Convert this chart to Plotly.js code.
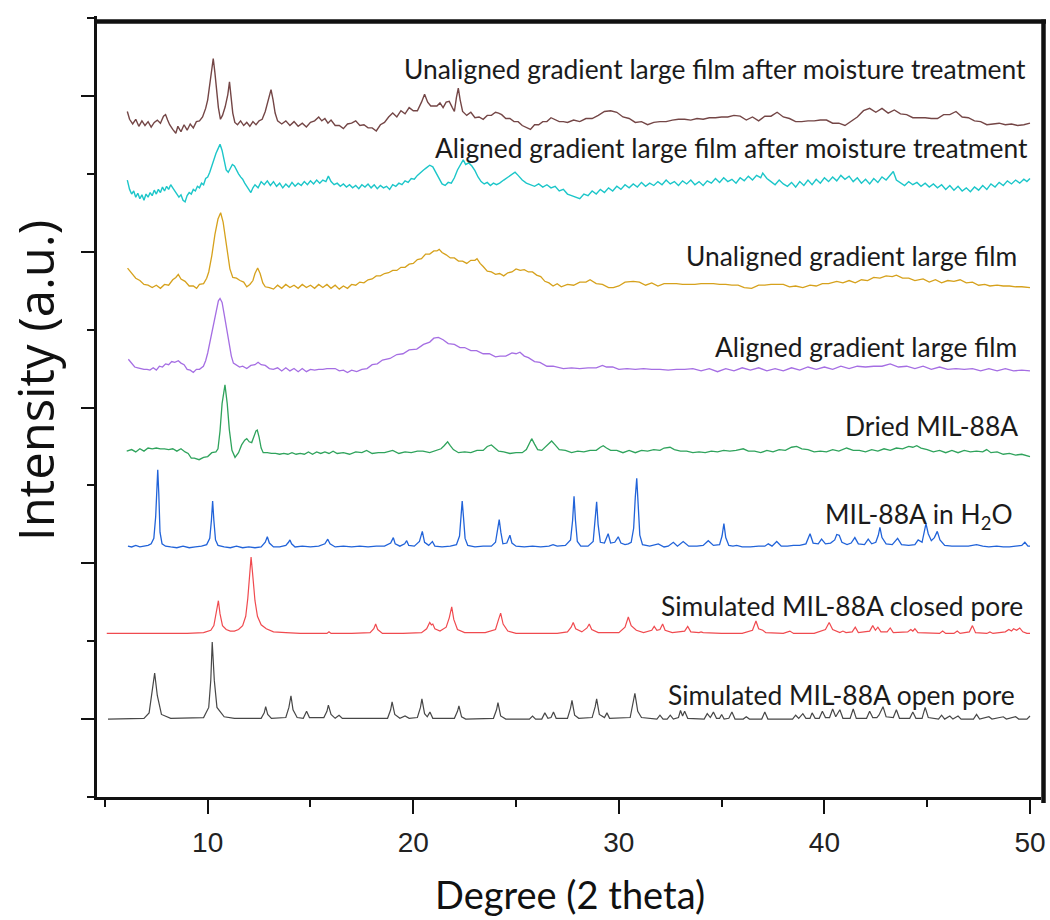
<!DOCTYPE html>
<html>
<head>
<meta charset="utf-8">
<script src="https://cdn.plot.ly/plotly-3.0.1.min.js"></script>
<style>html,body{margin:0;padding:0;background:#fff;}#chart{width:1050px;height:920px;}</style>
</head>
<body>
<div id="chart"></div>
<script>
// ---------- DATA (2θ in degrees, stacked intensity in offset units) ----------
const xTickVals = [10, 20, 30, 40, 50];
const xMinorVals = [5, 15, 25, 35, 45];
const yMajorVals = [1, 3, 5, 7, 9];
const yMinorVals = [0, 2, 4, 6, 8, 10];

const xTitle = "Degree (2 theta)";
const yTitle = "Intensity (a.u.)";

const seriesNames = [
  "Unaligned gradient large film after moisture treatment",
  "Aligned gradient large film after moisture treatment",
  "Unaligned gradient large film",
  "Aligned gradient large film",
  "Dried MIL-88A",
  "MIL-88A in H<sub>2</sub>O",
  "Simulated MIL-88A closed pore",
  "Simulated MIL-88A open pore"
];

const unalignedMoisture = [
[6.09,8.80],[6.2,8.70],[6.35,8.64],[6.5,8.70],[6.65,8.61],[6.8,8.68],[6.95,8.62],[7.1,8.67],[7.25,8.60],[7.4,8.66],[7.55,8.69],[7.7,8.65],[7.85,8.74],[7.95,8.76],[8.05,8.69],[8.15,8.63],[8.3,8.57],[8.45,8.52],[8.55,8.61],[8.7,8.54],[8.85,8.63],[9.0,8.56],[9.15,8.64],[9.3,8.59],[9.45,8.67],[9.6,8.68],[9.75,8.73],[9.9,8.84],[10.0,8.95],[10.1,9.15],[10.2,9.38],[10.27,9.48],[10.35,9.30],[10.43,9.05],[10.52,8.85],[10.62,8.70],[10.72,8.75],[10.85,8.86],[10.98,9.02],[11.06,9.18],[11.14,9.00],[11.22,8.78],[11.32,8.66],[11.45,8.63],[11.6,8.68],[11.75,8.62],[11.9,8.66],[12.05,8.61],[12.2,8.67],[12.35,8.63],[12.5,8.68],[12.65,8.70],[12.8,8.80],[12.95,8.94],[13.08,9.08],[13.18,8.95],[13.28,8.78],[13.4,8.68],[13.6,8.64],[13.8,8.68],[14.0,8.62],[14.2,8.67],[14.4,8.61],[14.6,8.65],[14.8,8.60],[15.0,8.66],[15.2,8.68],[15.4,8.73],[15.55,8.68],[15.7,8.71],[15.85,8.65],[16.0,8.69],[16.2,8.62],[16.4,8.62],[16.6,8.58],[16.8,8.64],[17.0,8.65],[17.2,8.68],[17.4,8.62],[17.6,8.63],[17.8,8.59],[18.0,8.59],[18.2,8.55],[18.4,8.63],[18.6,8.66],[18.8,8.73],[19.0,8.78],[19.2,8.73],[19.4,8.81],[19.6,8.77],[19.8,8.85],[20.0,8.81],[20.2,8.81],[20.4,8.92],[20.55,9.02],[20.7,8.92],[20.85,8.87],[21.0,8.87],[21.15,8.87],[21.3,8.91],[21.45,8.85],[21.6,8.92],[21.75,8.93],[21.9,8.85],[22.0,8.80],[22.1,8.98],[22.19,9.10],[22.28,8.95],[22.4,8.80],[22.6,8.75],[22.8,8.79],[23.0,8.72],[23.2,8.73],[23.4,8.70],[23.6,8.75],[23.8,8.75],[24.0,8.79],[24.15,8.78],[24.3,8.76],[24.5,8.71],[24.7,8.71],[24.9,8.67],[25.1,8.67],[25.3,8.62],[25.5,8.60],[25.7,8.57],[25.9,8.63],[26.1,8.63],[26.3,8.67],[26.5,8.67],[26.7,8.72],[26.9,8.69],[27.1,8.67],[27.3,8.67],[27.5,8.66],[27.8,8.69],[28.1,8.67],[28.4,8.71],[28.7,8.71],[29.0,8.75],[29.3,8.80],[29.6,8.81],[29.9,8.79],[30.2,8.73],[30.5,8.71],[30.8,8.66],[31.1,8.67],[31.4,8.63],[31.7,8.66],[32.0,8.67],[32.3,8.67],[32.6,8.69],[32.9,8.70],[33.2,8.70],[33.5,8.69],[33.8,8.71],[34.1,8.70],[34.4,8.72],[34.7,8.72],[35.0,8.73],[35.3,8.73],[35.6,8.75],[35.9,8.74],[36.2,8.69],[36.5,8.73],[36.8,8.68],[37.1,8.74],[37.4,8.74],[37.7,8.79],[38.0,8.73],[38.3,8.71],[38.6,8.67],[38.9,8.67],[39.2,8.68],[39.5,8.68],[39.8,8.69],[40.1,8.69],[40.4,8.65],[40.7,8.65],[41.0,8.62],[41.3,8.68],[41.6,8.73],[41.9,8.81],[42.2,8.84],[42.5,8.79],[42.8,8.84],[43.1,8.78],[43.4,8.82],[43.7,8.77],[44.0,8.76],[44.3,8.72],[44.6,8.72],[44.9,8.72],[45.2,8.71],[45.5,8.71],[45.8,8.76],[46.1,8.76],[46.4,8.80],[46.7,8.73],[47.0,8.72],[47.3,8.68],[47.6,8.67],[47.9,8.63],[48.2,8.64],[48.5,8.65],[48.8,8.63],[49.1,8.64],[49.4,8.62],[49.7,8.63],[50.0,8.65]
];

const alignedMoisture = [
[6.09,7.92],[6.2,7.80],[6.3,7.74],[6.4,7.78],[6.5,7.70],[6.6,7.75],[6.7,7.68],[6.8,7.73],[6.9,7.66],[7.0,7.74],[7.1,7.70],[7.2,7.76],[7.3,7.72],[7.4,7.79],[7.5,7.74],[7.6,7.80],[7.7,7.76],[7.8,7.83],[7.9,7.78],[8.0,7.84],[8.1,7.80],[8.2,7.86],[8.3,7.82],[8.4,7.78],[8.5,7.74],[8.6,7.70],[8.7,7.73],[8.8,7.66],[8.9,7.64],[9.0,7.72],[9.1,7.76],[9.2,7.74],[9.3,7.80],[9.4,7.78],[9.5,7.84],[9.6,7.82],[9.7,7.88],[9.8,7.86],[9.9,7.94],[10.0,7.96],[10.1,8.02],[10.2,8.10],[10.3,8.20],[10.4,8.26],[10.5,8.32],[10.6,8.38],[10.7,8.30],[10.8,8.16],[10.9,8.05],[11.0,8.02],[11.1,8.08],[11.2,8.12],[11.3,8.10],[11.4,8.04],[11.5,8.00],[11.6,7.96],[11.7,7.93],[11.8,7.88],[11.9,7.84],[12.0,7.80],[12.1,7.76],[12.2,7.82],[12.3,7.86],[12.45,7.82],[12.6,7.90],[12.75,7.86],[12.9,7.91],[13.05,7.85],[13.2,7.90],[13.35,7.84],[13.5,7.88],[13.65,7.82],[13.8,7.87],[13.95,7.83],[14.1,7.89],[14.25,7.84],[14.4,7.88],[14.55,7.85],[14.7,7.90],[14.85,7.86],[15.0,7.91],[15.15,7.87],[15.3,7.92],[15.45,7.88],[15.6,7.92],[15.75,7.90],[15.87,7.97],[16.0,7.90],[16.15,7.86],[16.3,7.88],[16.45,7.84],[16.6,7.87],[16.75,7.83],[16.9,7.86],[17.05,7.82],[17.2,7.85],[17.35,7.81],[17.5,7.86],[17.65,7.83],[17.8,7.87],[17.95,7.82],[18.1,7.86],[18.25,7.81],[18.4,7.85],[18.55,7.82],[18.7,7.84],[18.85,7.80],[19.0,7.86],[19.15,7.84],[19.3,7.88],[19.45,7.86],[19.6,7.91],[19.75,7.89],[19.9,7.94],[20.05,7.93],[20.2,7.98],[20.35,8.02],[20.5,8.05],[20.65,8.08],[20.8,8.11],[20.95,8.09],[21.1,8.02],[21.25,7.94],[21.4,7.87],[21.55,7.85],[21.7,7.89],[21.85,7.88],[22.0,7.95],[22.15,8.05],[22.3,8.13],[22.43,8.18],[22.55,8.12],[22.7,8.14],[22.85,8.10],[23.0,8.04],[23.15,7.96],[23.3,7.90],[23.45,7.87],[23.6,7.89],[23.75,7.85],[23.9,7.88],[24.05,7.86],[24.2,7.88],[24.4,7.92],[24.6,7.96],[24.8,7.99],[24.95,8.02],[25.1,7.98],[25.3,7.92],[25.5,7.88],[25.7,7.86],[25.9,7.84],[26.1,7.87],[26.3,7.83],[26.5,7.86],[26.7,7.82],[26.9,7.84],[27.1,7.78],[27.3,7.80],[27.5,7.74],[27.7,7.72],[27.9,7.70],[28.1,7.68],[28.3,7.74],[28.5,7.72],[28.7,7.78],[28.9,7.74],[29.1,7.80],[29.3,7.76],[29.5,7.82],[29.7,7.78],[29.9,7.84],[30.1,7.80],[30.3,7.86],[30.5,7.82],[30.7,7.87],[30.9,7.83],[31.1,7.89],[31.3,7.84],[31.5,7.88],[31.7,7.85],[31.9,7.90],[32.1,7.86],[32.3,7.92],[32.5,7.87],[32.7,7.90],[32.9,7.85],[33.1,7.91],[33.3,7.87],[33.5,7.92],[33.7,7.86],[33.9,7.90],[34.1,7.85],[34.3,7.91],[34.5,7.88],[34.7,7.94],[34.9,7.89],[35.1,7.95],[35.3,7.90],[35.5,7.93],[35.7,7.88],[35.9,7.95],[36.1,7.91],[36.3,7.97],[36.5,7.92],[36.7,7.98],[36.9,7.95],[37.0,8.01],[37.2,7.94],[37.4,7.90],[37.6,7.86],[37.8,7.92],[38.0,7.87],[38.2,7.84],[38.4,7.89],[38.6,7.83],[38.8,7.90],[39.0,7.85],[39.2,7.92],[39.4,7.86],[39.6,7.93],[39.8,7.88],[40.0,7.95],[40.2,7.90],[40.4,7.96],[40.6,7.91],[40.8,7.98],[41.0,7.93],[41.2,7.97],[41.4,7.90],[41.6,7.95],[41.8,7.88],[42.0,7.93],[42.2,7.87],[42.4,7.94],[42.6,7.89],[42.8,7.96],[43.0,7.92],[43.2,7.98],[43.35,8.03],[43.5,7.92],[43.7,7.88],[43.9,7.85],[44.1,7.90],[44.3,7.86],[44.5,7.89],[44.7,7.84],[44.9,7.88],[45.1,7.83],[45.3,7.87],[45.5,7.82],[45.7,7.86],[45.9,7.80],[46.1,7.85],[46.3,7.79],[46.5,7.84],[46.7,7.78],[46.9,7.82],[47.1,7.77],[47.3,7.83],[47.5,7.79],[47.7,7.85],[47.9,7.80],[48.1,7.87],[48.3,7.83],[48.5,7.89],[48.7,7.85],[48.9,7.91],[49.1,7.87],[49.3,7.92],[49.5,7.88],[49.7,7.93],[49.85,7.90],[50.0,7.94]
];

const unalignedFilm = [
[6.1,6.79],[6.3,6.72],[6.5,6.66],[6.7,6.63],[6.9,6.58],[7.1,6.57],[7.3,6.54],[7.5,6.57],[7.7,6.53],[7.9,6.58],[8.1,6.57],[8.3,6.64],[8.45,6.67],[8.57,6.71],[8.7,6.65],[8.9,6.62],[9.1,6.56],[9.3,6.56],[9.46,6.53],[9.6,6.58],[9.8,6.59],[9.95,6.66],[10.05,6.74],[10.2,6.95],[10.35,7.22],[10.5,7.42],[10.63,7.50],[10.75,7.38],[10.85,7.18],[10.95,6.98],[11.08,6.78],[11.22,6.67],[11.4,6.66],[11.57,6.63],[11.75,6.61],[11.9,6.55],[12.05,6.58],[12.2,6.63],[12.3,6.72],[12.43,6.79],[12.55,6.72],[12.68,6.60],[12.8,6.55],[13.0,6.54],[13.2,6.52],[13.4,6.57],[13.6,6.53],[13.8,6.58],[14.0,6.54],[14.2,6.57],[14.4,6.53],[14.6,6.58],[14.8,6.54],[15.0,6.57],[15.2,6.53],[15.4,6.58],[15.6,6.54],[15.8,6.58],[16.0,6.53],[16.2,6.57],[16.4,6.52],[16.6,6.56],[16.8,6.53],[17.0,6.58],[17.2,6.57],[17.4,6.61],[17.6,6.60],[17.8,6.64],[18.0,6.65],[18.2,6.69],[18.4,6.69],[18.6,6.72],[18.8,6.73],[19.0,6.76],[19.2,6.76],[19.4,6.80],[19.6,6.80],[19.8,6.84],[20.0,6.85],[20.2,6.90],[20.4,6.91],[20.6,6.97],[20.8,6.97],[21.0,7.01],[21.15,7.01],[21.26,7.03],[21.4,6.99],[21.6,6.96],[21.8,6.92],[22.0,6.92],[22.2,6.88],[22.4,6.88],[22.6,6.85],[22.8,6.89],[23.0,6.89],[23.1,6.91],[23.25,6.85],[23.4,6.81],[23.6,6.75],[23.8,6.74],[24.0,6.71],[24.2,6.72],[24.4,6.69],[24.6,6.73],[24.8,6.74],[25.0,6.78],[25.2,6.76],[25.4,6.77],[25.6,6.74],[25.8,6.74],[26.0,6.70],[26.2,6.68],[26.4,6.62],[26.6,6.60],[26.8,6.56],[27.0,6.59],[27.2,6.55],[27.5,6.58],[27.8,6.57],[28.1,6.61],[28.4,6.61],[28.6,6.64],[28.9,6.59],[29.2,6.58],[29.5,6.54],[29.73,6.54],[30.0,6.56],[30.3,6.61],[30.7,6.62],[31.0,6.61],[31.3,6.57],[31.6,6.60],[31.9,6.56],[32.2,6.59],[32.5,6.59],[32.8,6.59],[33.1,6.58],[33.4,6.58],[33.7,6.58],[34.0,6.59],[34.3,6.59],[34.6,6.59],[34.9,6.58],[35.2,6.58],[35.5,6.57],[35.8,6.57],[36.1,6.54],[36.46,6.53],[36.8,6.57],[37.1,6.57],[37.4,6.58],[37.7,6.58],[38.0,6.58],[38.3,6.55],[38.6,6.56],[38.95,6.54],[39.3,6.57],[39.6,6.56],[39.9,6.59],[40.2,6.59],[40.6,6.62],[40.9,6.60],[41.2,6.63],[41.5,6.60],[41.8,6.64],[42.1,6.63],[42.4,6.67],[42.7,6.66],[43.0,6.69],[43.3,6.68],[43.5,6.70],[43.8,6.66],[44.1,6.66],[44.4,6.63],[44.8,6.65],[45.1,6.61],[45.4,6.64],[45.7,6.60],[46.0,6.63],[46.3,6.62],[46.6,6.64],[46.9,6.60],[47.2,6.61],[47.5,6.57],[47.8,6.58],[48.05,6.56],[48.4,6.57],[48.7,6.56],[49.0,6.56],[49.3,6.55],[49.6,6.55],[50.0,6.54]
];

const alignedFilm = [
[6.14,5.62],[6.3,5.57],[6.45,5.52],[6.6,5.51],[6.75,5.50],[6.9,5.49],[7.05,5.49],[7.19,5.48],[7.35,5.51],[7.5,5.48],[7.65,5.53],[7.8,5.52],[7.95,5.56],[8.1,5.55],[8.25,5.59],[8.4,5.58],[8.57,5.60],[8.7,5.57],[8.85,5.55],[9.0,5.49],[9.15,5.48],[9.3,5.45],[9.45,5.49],[9.6,5.49],[9.79,5.53],[9.9,5.60],[10.0,5.70],[10.1,5.83],[10.2,5.97],[10.3,6.12],[10.42,6.28],[10.52,6.37],[10.6,6.40],[10.7,6.35],[10.8,6.20],[10.92,6.00],[11.05,5.80],[11.15,5.66],[11.25,5.57],[11.4,5.55],[11.55,5.52],[11.7,5.53],[11.9,5.50],[12.1,5.54],[12.3,5.55],[12.45,5.58],[12.6,5.55],[12.8,5.54],[13.0,5.50],[13.19,5.49],[13.4,5.51],[13.6,5.47],[13.8,5.51],[14.0,5.47],[14.2,5.50],[14.4,5.46],[14.6,5.50],[14.8,5.46],[15.0,5.49],[15.2,5.48],[15.4,5.49],[15.6,5.49],[15.8,5.50],[16.0,5.50],[16.2,5.50],[16.4,5.47],[16.6,5.48],[16.8,5.45],[17.0,5.48],[17.25,5.46],[17.5,5.49],[17.75,5.50],[18.0,5.55],[18.25,5.56],[18.5,5.61],[18.87,5.63],[19.2,5.68],[19.5,5.69],[19.8,5.74],[20.17,5.75],[20.5,5.81],[20.8,5.84],[21.0,5.89],[21.22,5.90],[21.45,5.87],[21.7,5.82],[22.0,5.81],[22.27,5.77],[22.5,5.77],[22.8,5.73],[23.08,5.73],[23.4,5.69],[23.7,5.69],[24.0,5.65],[24.22,5.66],[24.5,5.66],[24.8,5.70],[25.0,5.69],[25.19,5.71],[25.4,5.66],[25.6,5.64],[25.9,5.59],[26.16,5.58],[26.5,5.53],[26.8,5.53],[27.3,5.50],[27.7,5.51],[28.1,5.50],[28.5,5.51],[28.9,5.51],[29.2,5.54],[29.4,5.52],[29.7,5.52],[30.0,5.49],[30.4,5.50],[30.8,5.49],[31.2,5.50],[31.6,5.49],[32.0,5.49],[32.4,5.48],[32.8,5.49],[33.2,5.49],[33.6,5.50],[34.0,5.47],[34.4,5.50],[34.8,5.46],[35.2,5.50],[35.6,5.47],[36.0,5.51],[36.4,5.48],[36.8,5.51],[37.2,5.47],[37.6,5.50],[38.0,5.47],[38.4,5.51],[38.8,5.48],[39.2,5.52],[39.6,5.49],[40.0,5.52],[40.4,5.49],[40.8,5.53],[41.2,5.50],[41.6,5.53],[42.0,5.52],[42.4,5.53],[42.8,5.53],[43.2,5.56],[43.6,5.52],[44.0,5.53],[44.4,5.50],[44.8,5.53],[45.2,5.49],[45.6,5.52],[46.0,5.49],[46.4,5.50],[46.8,5.49],[47.2,5.50],[47.6,5.47],[48.0,5.50],[48.4,5.47],[48.8,5.50],[49.2,5.47],[49.6,5.48],[50.0,5.47]
];

const driedMIL = [
[6.06,4.44],[6.3,4.46],[6.5,4.43],[6.7,4.47],[6.9,4.44],[7.1,4.48],[7.3,4.47],[7.5,4.48],[7.7,4.47],[7.9,4.47],[8.1,4.46],[8.3,4.47],[8.5,4.44],[8.7,4.47],[8.9,4.43],[9.05,4.41],[9.2,4.35],[9.35,4.35],[9.58,4.33],[9.8,4.36],[10.0,4.37],[10.2,4.42],[10.4,4.43],[10.5,4.47],[10.6,4.70],[10.7,5.05],[10.84,5.29],[10.95,5.05],[11.05,4.72],[11.18,4.45],[11.33,4.36],[11.5,4.42],[11.65,4.52],[11.8,4.58],[11.9,4.60],[12.02,4.56],[12.14,4.55],[12.25,4.62],[12.35,4.70],[12.41,4.71],[12.5,4.62],[12.6,4.48],[12.7,4.42],[12.9,4.42],[13.1,4.41],[13.3,4.41],[13.5,4.40],[13.7,4.41],[13.9,4.40],[14.1,4.42],[14.3,4.40],[14.5,4.41],[14.7,4.40],[14.9,4.43],[15.1,4.40],[15.3,4.43],[15.5,4.41],[15.7,4.43],[15.9,4.41],[16.1,4.44],[16.3,4.41],[16.6,4.42],[16.9,4.40],[17.2,4.43],[17.5,4.42],[17.73,4.45],[18.0,4.41],[18.3,4.42],[18.6,4.42],[19.0,4.45],[19.3,4.41],[19.6,4.43],[19.9,4.42],[20.2,4.44],[20.47,4.44],[20.8,4.42],[21.1,4.45],[21.35,4.47],[21.5,4.51],[21.67,4.56],[21.8,4.51],[21.95,4.46],[22.2,4.42],[22.5,4.43],[22.8,4.42],[23.1,4.45],[23.4,4.45],[23.6,4.50],[23.8,4.52],[23.95,4.49],[24.15,4.44],[24.4,4.43],[24.7,4.41],[25.0,4.42],[25.3,4.42],[25.5,4.46],[25.65,4.54],[25.76,4.60],[25.9,4.53],[26.05,4.46],[26.25,4.45],[26.5,4.51],[26.73,4.57],[26.9,4.52],[27.1,4.46],[27.4,4.45],[27.7,4.42],[28.0,4.44],[28.3,4.43],[28.6,4.45],[28.9,4.45],[29.1,4.49],[29.24,4.51],[29.4,4.48],[29.6,4.45],[29.9,4.45],[30.2,4.42],[30.5,4.45],[30.8,4.42],[31.1,4.45],[31.4,4.44],[31.7,4.46],[32.0,4.45],[32.2,4.48],[32.49,4.49],[32.7,4.46],[33.0,4.44],[33.3,4.44],[33.6,4.42],[33.9,4.43],[34.2,4.42],[34.5,4.44],[34.8,4.43],[35.1,4.45],[35.4,4.44],[35.7,4.45],[36.05,4.47],[36.3,4.44],[36.6,4.44],[36.9,4.42],[37.2,4.45],[37.5,4.43],[37.8,4.46],[38.1,4.45],[38.4,4.49],[38.65,4.50],[38.9,4.47],[39.2,4.46],[39.5,4.43],[39.8,4.44],[40.1,4.43],[40.4,4.46],[40.7,4.44],[41.08,4.48],[41.4,4.45],[41.7,4.45],[42.0,4.43],[42.3,4.46],[42.6,4.44],[42.9,4.47],[43.2,4.45],[43.5,4.48],[43.8,4.47],[44.1,4.50],[44.3,4.49],[44.49,4.51],[44.7,4.48],[45.0,4.46],[45.3,4.43],[45.6,4.45],[45.9,4.42],[46.2,4.45],[46.5,4.42],[46.8,4.45],[47.1,4.43],[47.4,4.44],[47.7,4.43],[47.89,4.46],[48.1,4.42],[48.4,4.43],[48.7,4.40],[49.0,4.41],[49.3,4.39],[49.6,4.40],[50.0,4.37]
];

const milWater = [
[6.12,3.22],[6.3,3.21],[6.5,3.23],[6.7,3.21],[6.9,3.22],[7.1,3.23],[7.25,3.25],[7.38,3.32],[7.47,3.60],[7.52,3.95],[7.57,4.20],[7.62,3.90],[7.68,3.40],[7.78,3.25],[7.95,3.22],[8.2,3.21],[8.5,3.20],[8.8,3.22],[9.1,3.20],[9.4,3.21],[9.7,3.22],[9.95,3.24],[10.1,3.32],[10.18,3.55],[10.24,3.80],[10.3,3.55],[10.38,3.30],[10.5,3.23],[10.8,3.21],[11.1,3.20],[11.4,3.22],[11.7,3.20],[12.0,3.21],[12.3,3.20],[12.6,3.21],[12.8,3.27],[12.9,3.34],[13.0,3.26],[13.2,3.21],[13.5,3.21],[13.8,3.23],[13.93,3.27],[14.0,3.30],[14.08,3.25],[14.25,3.21],[14.6,3.22],[15.0,3.21],[15.4,3.22],[15.7,3.25],[15.84,3.31],[15.95,3.25],[16.2,3.21],[16.6,3.22],[17.0,3.21],[17.4,3.22],[17.8,3.21],[18.2,3.22],[18.6,3.22],[18.9,3.26],[19.03,3.33],[19.12,3.25],[19.35,3.22],[19.58,3.25],[19.68,3.29],[19.78,3.23],[20.05,3.22],[20.3,3.28],[20.44,3.41],[20.55,3.27],[20.75,3.23],[20.85,3.26],[20.93,3.28],[21.05,3.22],[21.4,3.21],[21.8,3.22],[22.1,3.24],[22.25,3.35],[22.33,3.60],[22.38,3.80],[22.44,3.60],[22.52,3.32],[22.65,3.23],[23.0,3.21],[23.4,3.22],[23.8,3.22],[24.0,3.27],[24.1,3.42],[24.18,3.56],[24.26,3.40],[24.36,3.25],[24.55,3.26],[24.7,3.36],[24.8,3.26],[25.0,3.22],[25.4,3.21],[25.8,3.22],[26.2,3.21],[26.6,3.22],[26.8,3.24],[27.0,3.22],[27.4,3.23],[27.65,3.30],[27.75,3.55],[27.82,3.86],[27.89,3.55],[27.98,3.28],[28.15,3.22],[28.5,3.22],[28.75,3.28],[28.85,3.55],[28.92,3.79],[28.99,3.50],[29.1,3.27],[29.3,3.26],[29.48,3.38],[29.6,3.26],[29.8,3.27],[29.97,3.34],[30.1,3.26],[30.3,3.24],[30.46,3.25],[30.6,3.27],[30.72,3.45],[30.8,3.85],[30.87,4.09],[30.94,3.75],[31.02,3.36],[31.15,3.24],[31.5,3.22],[31.92,3.25],[32.2,3.21],[32.4,3.22],[32.65,3.27],[32.85,3.22],[33.13,3.28],[33.4,3.22],[33.8,3.22],[34.1,3.23],[34.35,3.29],[34.6,3.23],[34.9,3.24],[35.02,3.35],[35.11,3.51],[35.2,3.33],[35.35,3.23],[35.55,3.22],[35.73,3.23],[36.0,3.21],[36.4,3.21],[36.8,3.22],[37.1,3.22],[37.27,3.25],[37.45,3.22],[37.68,3.28],[37.9,3.22],[38.2,3.22],[38.49,3.23],[38.8,3.23],[39.1,3.25],[39.3,3.38],[39.45,3.26],[39.7,3.25],[39.86,3.31],[40.05,3.25],[40.3,3.26],[40.5,3.30],[40.6,3.37],[40.72,3.36],[40.85,3.27],[41.1,3.24],[41.3,3.26],[41.48,3.33],[41.65,3.25],[41.95,3.24],[42.13,3.31],[42.3,3.25],[42.5,3.27],[42.62,3.36],[42.7,3.46],[42.8,3.33],[43.0,3.25],[43.3,3.24],[43.56,3.32],[43.75,3.24],[44.1,3.23],[44.4,3.24],[44.56,3.30],[44.75,3.27],[44.87,3.42],[44.94,3.51],[45.05,3.38],[45.2,3.29],[45.35,3.33],[45.49,3.41],[45.62,3.30],[45.85,3.23],[46.2,3.22],[46.6,3.22],[47.0,3.22],[47.4,3.24],[47.7,3.22],[48.0,3.21],[48.38,3.22],[48.7,3.21],[49.0,3.21],[49.3,3.22],[49.6,3.23],[49.75,3.27],[49.9,3.22],[50.0,3.22]
];

const simClosed = [
[5.09,2.10],[6.0,2.10],[7.0,2.10],[8.0,2.10],[9.0,2.10],[9.8,2.11],[10.15,2.14],[10.3,2.20],[10.42,2.35],[10.52,2.52],[10.6,2.35],[10.72,2.20],[10.9,2.15],[11.1,2.13],[11.3,2.13],[11.5,2.15],[11.7,2.20],[11.85,2.32],[11.95,2.55],[12.05,2.90],[12.11,3.08],[12.18,2.88],[12.3,2.52],[12.42,2.32],[12.6,2.21],[12.85,2.16],[13.2,2.12],[13.8,2.11],[14.5,2.10],[15.5,2.10],[15.8,2.10],[15.9,2.12],[16.0,2.10],[17.0,2.10],[17.9,2.11],[18.08,2.16],[18.17,2.22],[18.27,2.15],[18.5,2.10],[19.5,2.10],[20.4,2.11],[20.65,2.16],[20.8,2.24],[20.88,2.21],[20.95,2.22],[21.05,2.16],[21.3,2.13],[21.6,2.18],[21.75,2.30],[21.87,2.44],[21.97,2.28],[22.15,2.15],[22.5,2.11],[23.5,2.11],[24.0,2.15],[24.15,2.28],[24.25,2.36],[24.37,2.22],[24.6,2.13],[25.0,2.10],[26.0,2.10],[27.0,2.10],[27.5,2.12],[27.68,2.18],[27.78,2.24],[27.9,2.16],[28.2,2.12],[28.45,2.17],[28.56,2.22],[28.68,2.15],[29.0,2.11],[30.0,2.11],[30.3,2.18],[30.46,2.31],[30.6,2.20],[30.85,2.14],[31.2,2.11],[31.6,2.14],[31.72,2.19],[31.85,2.14],[32.0,2.15],[32.13,2.22],[32.25,2.14],[32.6,2.11],[33.2,2.13],[33.35,2.19],[33.5,2.12],[33.9,2.11],[34.0,2.12],[34.1,2.11],[35.0,2.10],[36.0,2.10],[36.5,2.14],[36.67,2.26],[36.8,2.16],[37.0,2.14],[37.15,2.11],[38.0,2.10],[38.32,2.13],[38.5,2.10],[39.5,2.10],[40.05,2.15],[40.23,2.24],[40.4,2.15],[40.75,2.11],[40.9,2.13],[41.05,2.11],[41.35,2.12],[41.5,2.18],[41.65,2.11],[42.2,2.13],[42.35,2.20],[42.48,2.14],[42.6,2.18],[42.75,2.12],[43.05,2.12],[43.2,2.17],[43.35,2.11],[44.05,2.12],[44.2,2.15],[44.3,2.13],[44.4,2.16],[44.55,2.11],[45.6,2.10],[45.75,2.13],[45.9,2.10],[46.3,2.10],[46.46,2.13],[46.6,2.10],[47.05,2.12],[47.2,2.20],[47.35,2.11],[47.9,2.10],[48.05,2.12],[48.2,2.10],[48.8,2.12],[48.97,2.15],[49.1,2.13],[49.2,2.16],[49.35,2.14],[49.5,2.17],[49.65,2.12],[49.85,2.10],[50.0,2.10]
];

const simOpen = [
[5.15,1.00],[6.9,1.01],[7.15,1.08],[7.3,1.35],[7.42,1.59],[7.55,1.30],[7.75,1.06],[8.2,1.01],[9.8,1.02],[10.05,1.15],[10.15,1.50],[10.22,1.99],[10.32,1.50],[10.45,1.15],[10.8,1.03],[11.3,1.01],[12.6,1.01],[12.75,1.08],[12.82,1.16],[12.92,1.06],[13.1,1.01],[13.8,1.02],[13.95,1.15],[14.05,1.30],[14.15,1.12],[14.35,1.02],[14.65,1.01],[14.81,1.10],[14.95,1.02],[15.65,1.02],[15.8,1.10],[15.87,1.18],[16.0,1.06],[16.2,1.01],[16.39,1.05],[16.55,1.01],[18.75,1.01],[18.9,1.12],[18.97,1.22],[19.1,1.06],[19.35,1.01],[19.6,1.04],[19.8,1.01],[20.2,1.02],[20.35,1.15],[20.42,1.26],[20.55,1.07],[20.68,1.03],[20.81,1.09],[20.95,1.01],[22.0,1.01],[22.15,1.10],[22.22,1.17],[22.35,1.03],[22.55,1.00],[23.9,1.01],[24.05,1.12],[24.12,1.21],[24.25,1.04],[24.5,1.00],[25.65,1.00],[25.8,1.04],[25.95,1.00],[26.25,1.00],[26.4,1.08],[26.55,1.01],[26.7,1.02],[26.82,1.09],[26.95,1.01],[27.5,1.01],[27.65,1.14],[27.72,1.24],[27.85,1.05],[28.05,1.01],[28.7,1.02],[28.85,1.16],[28.92,1.26],[29.05,1.06],[29.3,1.02],[29.42,1.08],[29.55,1.01],[30.55,1.02],[30.7,1.20],[30.78,1.33],[30.92,1.10],[31.1,1.02],[31.85,1.00],[32.0,1.05],[32.15,1.00],[32.35,1.00],[32.5,1.05],[32.65,1.00],[32.9,1.02],[33.0,1.11],[33.1,1.04],[33.2,1.10],[33.35,1.01],[34.15,1.00],[34.3,1.07],[34.45,1.02],[34.6,1.09],[34.75,1.01],[34.9,1.01],[35.0,1.06],[35.12,1.00],[35.35,1.01],[35.5,1.09],[35.65,1.00],[36.05,1.00],[36.2,1.03],[36.35,1.00],[36.95,1.00],[37.1,1.09],[37.25,1.00],[38.45,1.00],[38.6,1.05],[38.75,1.01],[38.95,1.07],[39.1,1.01],[39.3,1.01],[39.4,1.08],[39.55,1.01],[39.75,1.01],[39.9,1.10],[40.05,1.02],[40.25,1.02],[40.4,1.13],[40.55,1.03],[40.75,1.12],[40.9,1.01],[41.25,1.01],[41.4,1.13],[41.55,1.01],[42.05,1.01],[42.2,1.10],[42.35,1.02],[42.55,1.02],[42.65,1.05],[42.85,1.16],[43.0,1.03],[43.35,1.02],[43.5,1.12],[43.65,1.01],[44.15,1.01],[44.3,1.09],[44.45,1.01],[44.75,1.01],[44.9,1.15],[45.05,1.02],[45.55,1.00],[45.7,1.05],[45.85,1.00],[46.1,1.04],[46.25,1.00],[46.5,1.04],[46.65,1.00],[47.25,1.00],[47.4,1.06],[47.55,1.00],[48.0,1.03],[48.15,1.00],[48.7,1.03],[48.85,1.00],[49.3,1.03],[49.45,1.00],[49.85,1.00],[50.0,1.04]
];

// ---------- STYLE / LAYOUT ----------
const seriesData = [unalignedMoisture, alignedMoisture, unalignedFilm, alignedFilm, driedMIL, milWater, simClosed, simOpen];
const colors = ['#744646', '#1cc6c9', '#d6a11c', '#a56ee3', '#2fa35c', '#2163d9', '#f04a4f', '#474747'];
const widths = [1.4, 1.4, 1.3, 1.3, 1.3, 1.3, 1.2, 1.2];

// label placement in pixels (right edge, vertical centre)
const labelRight = [1028, 1030, 1019, 1019, 1020, 1015, 1025, 1017];
const labelMid   = [68.5, 148.5, 255.5, 347, 425.5, 515.5, 605.5, 695];

const plotL = 97, plotR = 1041, plotT = 16, plotB = 797;
const toPaperX = px => (px - plotL) / (plotR - plotL);
const toPaperY = py => (plotB - py) / (plotB - plotT);

const traces = seriesData.map((d, i) => ({
  type: 'scatter', mode: 'lines',
  x: d.map(p => p[0]), y: d.map(p => p[1]),
  line: {color: colors[i], width: widths[i]},
  name: seriesNames[i], hoverinfo: 'skip'
}));

const labelFont = {family: 'Lato, "Open Sans", sans-serif', size: 26.4, color: '#1b1b1b'};
const annotations = seriesNames.map((t, i) => ({
  text: t, xref: 'paper', yref: 'paper',
  x: toPaperX(labelRight[i]), y: toPaperY(labelMid[i]),
  xanchor: 'right', yanchor: 'middle', showarrow: false,
  font: labelFont
}));
// axis titles
annotations.push({
  text: xTitle, xref: 'paper', yref: 'paper',
  x: toPaperX(570), y: toPaperY(894), xanchor: 'center', yanchor: 'middle', showarrow: false,
  font: {family: 'Lato, "Open Sans", sans-serif', size: 38, color: '#111'}
});
annotations.push({
  text: yTitle, xref: 'paper', yref: 'paper', textangle: -90,
  x: toPaperX(35), y: toPaperY(381), xanchor: 'center', yanchor: 'middle', showarrow: false,
  font: {family: '"Open Sans", Lato, sans-serif', size: 49, color: '#111'}
});

const axisColor = '#111';
const layout = {
  width: 1050, height: 920,
  margin: {l: plotL, r: 1050 - plotR, t: plotT, b: 920 - plotB, pad: 0},
  paper_bgcolor: '#ffffff', plot_bgcolor: '#ffffff',
  showlegend: false,
  xaxis: {
    range: [4.615, 50.535], tickmode: 'array', tickvals: xTickVals,
    ticks: 'outside', ticklen: 14, tickwidth: 2, tickcolor: axisColor,
    minor: {tickmode: 'array', tickvals: xMinorVals, ticks: 'outside', ticklen: 7, tickwidth: 2, tickcolor: axisColor, showgrid: false},
    showline: true, linewidth: 3, linecolor: axisColor,
    showgrid: false, zeroline: false,
    tickfont: {family: '"Liberation Sans", Arial, sans-serif', size: 28, color: '#222'},
    ticklabelstandoff: 4,
    automargin: false
  },
  yaxis: {
    range: [0, 10.026], tickmode: 'array', tickvals: yMajorVals,
    showticklabels: false,
    ticks: 'outside', ticklen: 13, tickwidth: 2, tickcolor: axisColor,
    minor: {tickmode: 'array', tickvals: yMinorVals, ticks: 'outside', ticklen: 7, tickwidth: 2, tickcolor: axisColor, showgrid: false},
    showline: true, linewidth: 3, linecolor: axisColor,
    showgrid: false, zeroline: false,
    automargin: false
  },
  shapes: [
    {type: 'line', xref: 'paper', yref: 'paper', x0: toPaperX(96), x1: toPaperX(1046), y0: toPaperY(21.5), y1: toPaperY(21.5), line: {color: axisColor, width: 4.5}},
    {type: 'line', xref: 'paper', yref: 'paper', x0: toPaperX(1043.5), x1: toPaperX(1043.5), y0: toPaperY(19.5), y1: toPaperY(803), line: {color: axisColor, width: 4.5}}
  ],
  annotations: annotations
};

Plotly.newPlot('chart', traces, layout, {displayModeBar: false, staticPlot: true});
</script>
</body>
</html>
